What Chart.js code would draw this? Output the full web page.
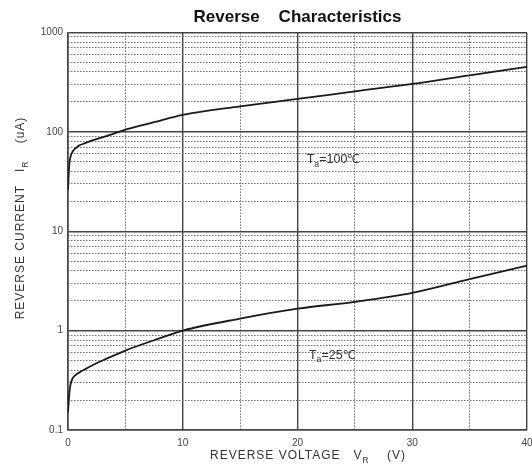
<!DOCTYPE html>
<html>
<head>
<meta charset="utf-8">
<script src="https://cdn.jsdelivr.net/npm/chart.js@4.4.1/dist/chart.umd.min.js"></script>
<style>
  html, body { margin: 0; padding: 0; background: #fff; }
  #wrap { width: 532px; height: 471px; }
</style>
</head>
<body>
<div id="wrap"><canvas id="grafica-reverse"></canvas></div>
<script>
// values
const voltage100 = [0, 0.1, 0.2, 0.4, 0.7, 1, 1.5, 2, 3, 4, 5, 7.5, 10, 15, 20, 25, 30, 35, 40];
const current100 = [26, 45, 55, 63, 69, 73, 77, 81, 88, 96, 105, 125, 148, 180, 214, 255, 303, 370, 450];

const voltage25 = [0, 0.1, 0.2, 0.4, 0.7, 1, 1.5, 2, 3, 5, 7.5, 10, 15, 20, 25, 30, 35, 40];
const current25 = [0.15, 0.22, 0.28, 0.33, 0.36, 0.38, 0.41, 0.44, 0.5, 0.63, 0.8, 1.0, 1.32, 1.66, 1.95, 2.4, 3.3, 4.5];

const xTicks = [0, 10, 20, 30, 40];
const xMinorTicks = [5, 15, 25, 35];
const yTicks = [0.1, 1, 10, 100, 1000];
const yMinorTicks = [];
for (let d = 0.1; d < 1000; d *= 10) {
    for (let m = 2; m <= 9; m++) yMinorTicks.push(+(m * d).toPrecision(3));
}

const toPoints = (xs, ys) => xs.map((x, i) => ({ x: x, y: ys[i] }));

// draws text with a small subscript part: parts = [[text, isSub], ...]
const drawParts = (ctx, parts, x, y, size) => {
    let cx = x;
    parts.forEach(p => {
        if (p[1]) {
            ctx.font = (size * 0.7) + 'px "Liberation Sans", Arial, sans-serif';
            ctx.fillText(p[0], cx, y + size * 0.35);
        } else {
            ctx.font = size + 'px "Liberation Sans", Arial, sans-serif';
            ctx.fillText(p[0], cx, y);
        }
        cx += ctx.measureText(p[0]).width;
    });
    return cx - x;
};

const measureParts = (ctx, parts, size) => {
    let w = 0;
    parts.forEach(p => {
        ctx.font = (p[1] ? size * 0.7 : size) + 'px "Liberation Sans", Arial, sans-serif';
        w += ctx.measureText(p[0]).width;
    });
    return w;
};

const labelsPlugin = {
    id: 'labels',
    afterDraw(chart) {
        const ctx = chart.ctx;
        const x = chart.scales.x, y = chart.scales.y;
        ctx.save();
        ctx.fillStyle = '#333';
        ctx.textBaseline = 'middle';
        ctx.letterSpacing = '1px';

        // x axis title
        const xt = [['REVERSE VOLTAGE   V', false], ['R', true], ['    (V)', false]];
        const xw = measureParts(ctx, xt, 12);
        drawParts(ctx, xt, 308 - xw / 2, 456, 12);

        // y axis title
        const yt = [['REVERSE CURRENT   I', false], ['R', true], ['    (uA)', false]];
        const yw = measureParts(ctx, yt, 12);
        ctx.save();
        ctx.translate(21, 218);
        ctx.rotate(-Math.PI / 2);
        drawParts(ctx, yt, -yw / 2, 0, 12);
        ctx.restore();

        // curve labels
        ctx.letterSpacing = '0px';
        drawParts(ctx, [['T', false], ['a', true], ['=100℃', false]], x.getPixelForValue(20.8), y.getPixelForValue(52), 12.5);
        drawParts(ctx, [['T', false], ['a', true], ['=25℃', false]], x.getPixelForValue(21), y.getPixelForValue(0.56), 12.5);
        ctx.restore();
    }
};

const tickFont = { family: '"Liberation Sans", Arial, sans-serif', size: 10 };

new Chart(document.getElementById('grafica-reverse'), {
    type: 'line',
    data: {
        datasets: [{
            label: 'Ta=100',
            data: toPoints(voltage100, current100),
            borderColor: '#1a1a1a',
            borderWidth: 1.8,
            pointRadius: 0,
            cubicInterpolationMode: 'monotone'
        }, {
            label: 'Ta=25',
            data: toPoints(voltage25, current25),
            borderColor: '#1a1a1a',
            borderWidth: 1.8,
            pointRadius: 0,
            cubicInterpolationMode: 'monotone'
        }]
    },
    options: {
        responsive: true,
        maintainAspectRatio: false,
        animation: false,
        layout: { padding: { left: 0, right: 5, top: 0, bottom: 0 } },
        plugins: {
            legend: { display: false },
            tooltip: { enabled: false },
            title: {
                display: true,
                text: 'Reverse    Characteristics',
                fullSize: false,
                color: '#111',
                font: { family: 'Arial, "Liberation Sans", sans-serif', size: 17, weight: 'bold' },
                padding: { top: 7, bottom: 5 }
            }
        },
        scales: {
            x: {
                type: 'linear',
                min: 0,
                max: 40,
                afterBuildTicks: s => { s.ticks = xTicks.map(v => ({ value: v })); },
                afterFit: s => { s.height = 41; s.paddingRight = 0; s.paddingLeft = 0; },
                ticks: { color: '#444', font: tickFont, padding: 7, maxRotation: 0 },
                grid: { color: '#444', lineWidth: 1.4, drawTicks: false },
                border: { color: '#444', width: 1.6 }
            },
            xMinor: {
                type: 'linear',
                position: 'bottom',
                min: 0,
                max: 40,
                afterBuildTicks: s => { s.ticks = xMinorTicks.map(v => ({ value: v })); },
                afterFit: s => { s.height = 0; s.paddingRight = 0; s.paddingLeft = 0; },
                ticks: { display: false },
                grid: { color: '#6a6a6a', lineWidth: 1, drawTicks: false, z: -1 },
                border: { display: false, dash: [1.5, 1.5] }
            },
            y: {
                type: 'logarithmic',
                min: 0.1,
                max: 1000,
                afterBuildTicks: s => { s.ticks = yTicks.map(v => ({ value: v })); },
                afterFit: s => { s.width = 68; s.paddingTop = 0; s.paddingBottom = 0; },
                ticks: { color: '#444', font: tickFont, padding: 5, callback: v => String(v) },
                grid: { color: '#444', lineWidth: 1.4, drawTicks: false },
                border: { color: '#444', width: 1.6 }
            },
            yMinor: {
                type: 'logarithmic',
                position: 'left',
                min: 0.1,
                max: 1000,
                afterBuildTicks: s => { s.ticks = yMinorTicks.map(v => ({ value: v })); },
                afterFit: s => { s.width = 0; s.paddingTop = 0; s.paddingBottom = 0; },
                ticks: { display: false },
                grid: { color: '#6a6a6a', lineWidth: 1, drawTicks: false, z: -1 },
                border: { display: false, dash: [1.5, 1.5] }
            }
        }
    },
    plugins: [labelsPlugin]
});
</script>
</body>
</html>
